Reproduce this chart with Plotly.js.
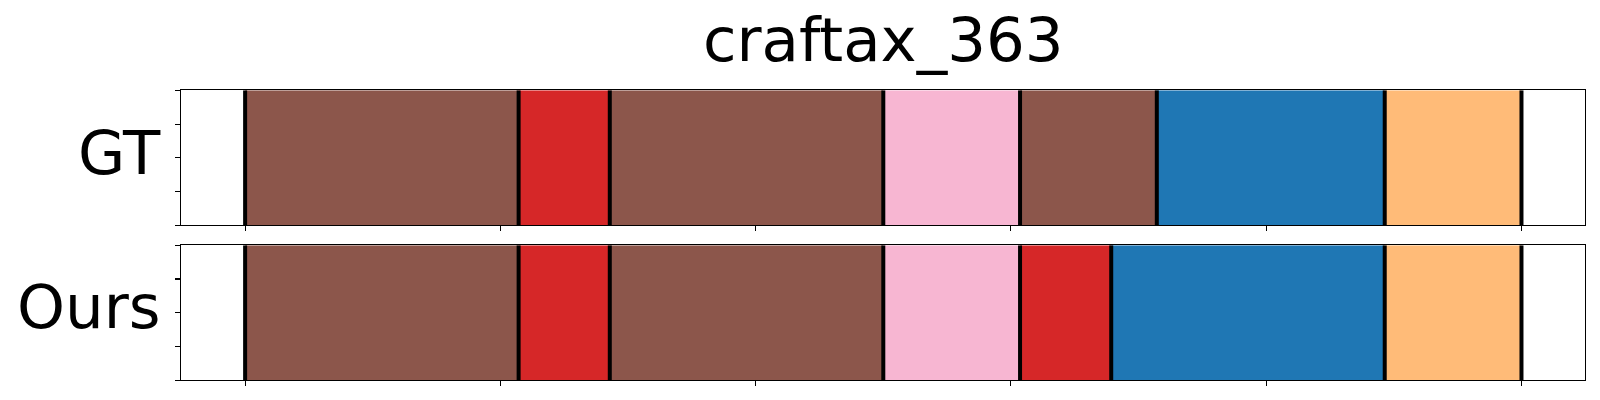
<!DOCTYPE html>
<html>
<head>
<meta charset="utf-8">
<script src="https://cdn.plot.ly/plotly-3.0.1.min.js"></script>
<style>html,body{margin:0;padding:0;background:#fff;}#chart{width:1600px;height:400px;}</style>
</head>
<body>
<div id="chart"></div>
<script>
// Segment data (frame counts per segment, in order)
const totalFrames = 28;
const gtLengths = [6, 2, 6, 3, 3, 5, 3];
const gtColors  = ['#8c564b', '#d62728', '#8c564b', '#f7b6d2', '#8c564b', '#1f77b4', '#ffbb78'];
const oursLengths = [6, 2, 6, 3, 2, 6, 3];
const oursColors  = ['#8c564b', '#d62728', '#8c564b', '#f7b6d2', '#d62728', '#1f77b4', '#ffbb78'];
const rowLabels = ['GT', 'Ours'];
const titleText = 'craftax_363';
const xTicks = [0, 0.2, 0.4, 0.6, 0.8, 1.0];
const yTicks = [0, 0.25, 0.5, 0.75, 1.0];

function segTraces(lengths, colors, xa, ya) {
  const bases = [], widths = [];
  let acc = 0;
  lengths.forEach(l => { bases.push(acc / totalFrames); widths.push(l / totalFrames); acc += l; });
  const bar = {
    type: 'bar', orientation: 'h',
    x: widths, base: bases, y: lengths.map(() => 0.5), width: lengths.map(() => 1),
    marker: {color: colors, line: {width: 0}},
    xaxis: xa, yaxis: ya, hoverinfo: 'skip', showlegend: false
  };
  const bx = [], by = [];
  const bounds = [0];
  acc = 0;
  lengths.forEach(l => { acc += l; bounds.push(acc / totalFrames); });
  bounds.forEach(b => { bx.push(b, b, null); by.push(0, 1, null); });
  const lines = {
    type: 'scatter', mode: 'lines', x: bx, y: by,
    line: {color: '#000', width: 4},
    xaxis: xa, yaxis: ya, hoverinfo: 'skip', showlegend: false, cliponaxis: true
  };
  return [bar, lines];
}

const data = [
  ...segTraces(gtLengths, gtColors, 'x', 'y'),
  ...segTraces(oursLengths, oursColors, 'x2', 'y2')
];

const W = 1600, H = 400;
const axL = 181.3 / W, axR = 1585.3 / W;
const gtTop = 90.3, gtBot = 225.3, oTop = 245.3, oBot = 380.3;

function xaxis(anchor) {
  return {
    domain: [axL, axR], range: [-0.05, 1.05], anchor: anchor,
    tickvals: xTicks, showticklabels: false, ticks: 'outside', ticklen: 5, tickwidth: 1.1, tickcolor: '#000',
    showgrid: false, zeroline: false, showline: true, mirror: true, linecolor: '#000', linewidth: 1.1,
    fixedrange: true
  };
}
function yaxis(anchor, top, bot) {
  return {
    domain: [1 - bot / H, 1 - top / H], range: [0, 1], anchor: anchor,
    tickvals: yTicks, showticklabels: false, ticks: 'outside', ticklen: 5, tickwidth: 1.1, tickcolor: '#000',
    showgrid: false, zeroline: false, showline: true, mirror: true, linecolor: '#000', linewidth: 1.1,
    fixedrange: true
  };
}

const font = 'DejaVu Sans, sans-serif';
const fsz = 61;
const layout = {
  width: W, height: H,
  margin: {l: 0, r: 0, t: 0, b: 0},
  paper_bgcolor: '#fff', plot_bgcolor: '#fff',
  barmode: 'overlay',
  title: {text: titleText, font: {family: font, size: fsz, color: '#000'},
          x: (axL + axR) / 2, xanchor: 'center', xref: 'paper',
          y: 1 - 40 / H, yanchor: 'middle', yref: 'container'},
  xaxis: xaxis('y'), yaxis: yaxis('x', gtTop, gtBot),
  xaxis2: xaxis('y2'), yaxis2: yaxis('x2', oTop, oBot),
  annotations: [
    {text: rowLabels[0], xref: 'paper', yref: 'paper', x: 162.5 / W, y: 1 - 152 / H,
     xanchor: 'right', yanchor: 'middle', showarrow: false, font: {family: font, size: fsz, color: '#000'}},
    {text: rowLabels[1], xref: 'paper', yref: 'paper', x: 162.5 / W, y: 1 - 306.5 / H,
     xanchor: 'right', yanchor: 'middle', showarrow: false, font: {family: font, size: fsz, color: '#000'}}
  ]
};

Plotly.newPlot('chart', data, layout, {staticPlot: true, displayModeBar: false});
</script>
</body>
</html>
